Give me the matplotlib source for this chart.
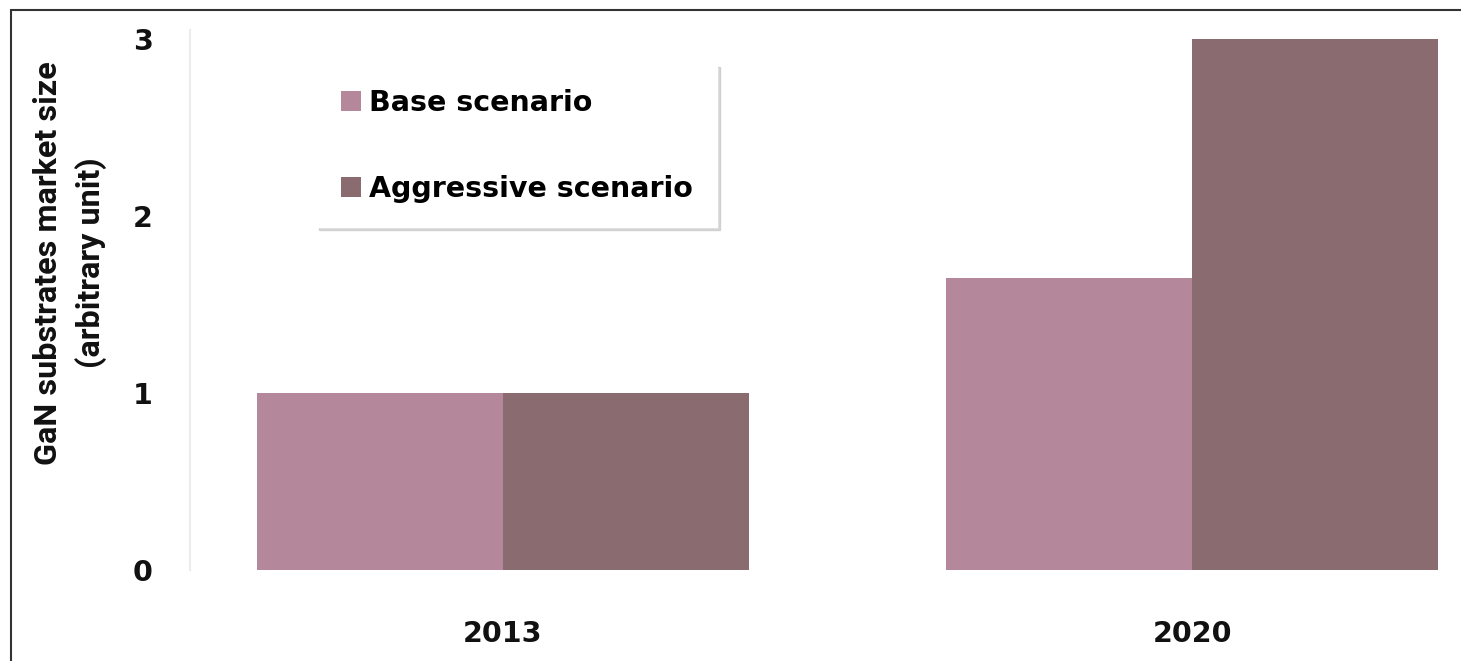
#!/usr/bin/env python3
# -*- coding: utf-8 -*-

import numpy as np
import matplotlib
matplotlib.use("Agg")
import matplotlib.pyplot as plt
from matplotlib.patches import Rectangle

# -----------------------
# Data
# -----------------------
years = ["2013", "2020"]
base_scenario = [1.0, 1.65]
aggressive_scenario = [1.0, 3.0]
series_names = ["Base scenario", "Aggressive scenario"]
y_ticks = [0, 1, 2, 3]

BASE_COLOR = "#b4879b"
AGGR_COLOR = "#8a6b70"


def main():
    fig = plt.figure(figsize=(14.61, 6.61), dpi=100)
    ax = fig.add_axes([190 / 1461, 1 - 570 / 661, 1 - 190 / 1461, 540 / 661])

    x = np.arange(len(years))
    w = 0.357
    ax.bar(x - w / 2, base_scenario, width=w, color=BASE_COLOR, label=series_names[0])
    ax.bar(x + w / 2, aggressive_scenario, width=w, color=AGGR_COLOR, label=series_names[1])

    ax.set_xlim(-0.454, 1.39)
    ax.set_ylim(0, 3.05)
    ax.set_xticks(x)
    ax.set_xticklabels(years)
    ax.set_yticks(y_ticks)

    tick_font = dict(family="DejaVu Sans", weight="bold", size=20.5)
    for lab in ax.get_xticklabels() + ax.get_yticklabels():
        lab.set_fontproperties(tick_font)
        lab.set_color("#111111")
    ax.tick_params(axis="both", length=0)
    ax.tick_params(axis="y", pad=27)
    ax.tick_params(axis="x", pad=36)

    for side in ["top", "right", "bottom"]:
        ax.spines[side].set_visible(False)
    ax.spines["left"].set_color("#ececec")
    ax.spines["left"].set_linewidth(1.5)

    # y label, two lines, placed in figure coords
    fig.text(70 / 1461, 1 - 263 / 661,
             "GaN substrates market size\n(arbitrary unit)",
             rotation=90, ha="center", va="center", multialignment="center",
             family="Roboto", weight="bold", size=23.3, color="#111111",
             linespacing=1.45)

    leg = ax.legend(
        loc="center",
        bbox_to_anchor=(517 / 1461, 1 - 146 / 661),
        bbox_transform=fig.transFigure,
        prop=dict(family="DejaVu Sans", weight="bold", size=20.5),
        handlelength=0.7,
        handleheight=0.7,
        handletextpad=0.3,
        labelspacing=2.05,
        borderpad=0.85,
        frameon=True,
        fancybox=False,
        shadow={"color": "0.75", "alpha": 0.6},
    )
    leg.get_frame().set_edgecolor("white")
    leg.get_frame().set_facecolor("white")
    leg.get_frame().set_alpha(1.0)

    # figure border (left and top edges visible)
    fig.patches.append(Rectangle((11 / 1461, -0.1), 1.2, 1.1 - 10 / 661,
                                 transform=fig.transFigure, fill=False,
                                 edgecolor="#333333", linewidth=1.5))

    fig.savefig("out.png", dpi=100)
    plt.close(fig)


if __name__ == "__main__":
    main()
